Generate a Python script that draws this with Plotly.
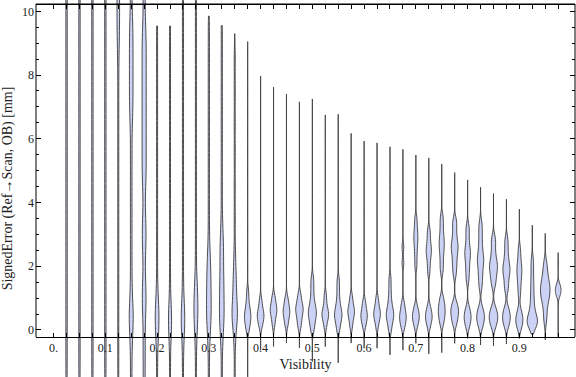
import plotly.graph_objects as go

# ---- data ----
visibility = [0.025, 0.05, 0.075, 0.1, 0.125, 0.15, 0.175, 0.2, 0.225, 0.25,
              0.275, 0.3, 0.325, 0.35, 0.375, 0.4, 0.425, 0.45, 0.475, 0.5,
              0.525, 0.55, 0.575, 0.6, 0.625, 0.65, 0.675, 0.7, 0.725, 0.75,
              0.775, 0.8, 0.825, 0.85, 0.875, 0.9, 0.925, 0.95, 0.975]

# lowest / highest signed error per bin [mm] (extent of each violin)
err_min = [-2, -2, -2, -2, -2, -2, -2, -2, -2, -2,
           -2, -2, -2, -2, -2, -0.63, -0.52, -0.40, -0.56, -0.99,
           -0.52, -1.03, -0.41, -0.57, -0.57, -0.78, -0.63, -0.42, -0.75, -0.71,
           -0.42, -0.26, -0.47, -0.50, -0.44, -0.26, -0.13, -0.31, -0.21]
err_max = [12, 12, 12, 12, 12, 12, 12, 9.54, 9.54, 12,
           12, 9.85, 9.55, 9.3, 9.05, 7.97, 7.62, 7.40, 7.16, 7.25,
           6.75, 6.77, 6.17, 5.93, 5.87, 5.75, 5.67, 5.49, 5.40, 5.21,
           4.94, 4.71, 4.48, 4.28, 4.10, 3.79, 3.29, 3.03, 2.43]

# relative peak density of each violin (widest = 1)
peak_rel = [0.13, 0.13, 0.13, 0.13, 0.25, 0.38, 0.4, 0.36, 0.3, 0.34,
            0.38, 0.45, 0.45, 0.52, 0.62, 0.64, 0.64, 0.64, 0.72, 0.78,
            0.64, 0.72, 0.64, 0.62, 0.64, 0.72, 0.64, 0.66, 0.64, 0.66,
            0.74, 0.66, 0.74, 0.82, 0.74, 0.68, 1.0, 0.92, 0.55]

kde_bw = [0.6, 0.6, 0.6, 0.6, 0.6, 0.5, 0.5, 0.5, 0.5, 0.5,
          0.5, 0.5, 0.45, 0.4, 0.18, 0.15, 0.15, 0.15, 0.15, 0.17,
          0.15, 0.17, 0.15, 0.14, 0.15, 0.17, 0.15, 0.15, 0.15, 0.16,
          0.16, 0.16, 0.17, 0.16, 0.16, 0.16, 0.18, 0.2, 0.1]

err_samples = [
    [-1.5, -0.5, 0.5, 1.5, 2.5, 3.5, 4.5, 5.5, 6.5, 7.5, 8.5, 9.5, 10.5, 11.5],
    [-1.5, -0.5, 0.5, 1.5, 2.5, 3.5, 4.5, 5.5, 6.5, 7.5, 8.5, 9.5, 10.5, 11.5],
    [-1.5, -0.5, 0.5, 1.5, 2.5, 3.5, 4.5, 5.5, 6.5, 7.5, 8.5, 9.5, 10.5, 11.5],
    [-1.5, -0.5, 0.5, 1.5, 2.5, 3.5, 4.5, 5.5, 6.5, 7.5, 8.5, 9.5, 10.5, 11.5],
    [-1.5, -0.5, 0.5, 1.5, 2.5, 3.5, 4.5, 5.5, 6.5, 7.5, 8.5, 9.5, 10.5, 11.5,
     9.2, 9.8, 10.4, 11.0],
    [-1.5, -0.5, 0.5, 1.5, 2.5, 3.5, 4.5, 5.5, 6.5, 7.5, 8.5, 9.5, 10.5, 11.5,
     7.0, 7.8, 8.6, 9.4, 0.2, 0.6],
    [-1.5, -0.5, 0.5, 1.5, 2.5, 3.5, 4.5, 5.5, 6.5, 7.5, 8.5, 9.5, 10.5, 11.5,
     1.0, 3.0, 5.0, 6.0, 7.0, 8.0, 9.0],
    [-1.5, -0.5, 0.5, 1.5, 2.5, 3.5, 4.5, 5.5, 6.5, 7.5, 8.5, 9.5, 0.0, 0.25, 0.5, 0.75],
    [-1.5, -0.5, 0.5, 1.5, 2.5, 3.5, 4.5, 5.5, 6.5, 7.5, 8.5, 9.5, 0.1, 0.3, 0.5],
    [-1.5, -0.5, 0.5, 1.5, 2.5, 3.5, 4.5, 5.5, 6.5, 7.5, 8.5, 9.5, 10.5, 11.5,
     0.1, 0.35, 0.6],
    [-1.5, -0.5, 0.5, 1.5, 2.5, 3.5, 4.5, 5.5, 6.5, 7.5, 8.5, 9.5, 10.5, 11.5,
     0.1, 0.4, 0.7, 1.0, 1.3],
    [-1.5, -0.5, 0.5, 1.5, 2.5, 3.5, 4.5, 5.5, 6.5, 7.5, 8.5, 9.5,
     0.1, 0.4, 0.7, 1.0, 1.4, 1.8, 2.2],
    [-1.5, -0.5, 0.5, 1.5, 2.5, 3.5, 4.5, 5.5, 6.5, 7.5, 8.5, 9.5,
     0.0, 0.3, 0.6, 0.9, 1.2, 1.6, 2.0, 2.5, 2.9],
    [-1.5, -0.5, 0.5, 1.5, 2.5, 3.5, 4.5, 5.5, 6.5, 7.5, 8.5,
     0.1, 0.3, 0.45, 0.6, 0.8, 1.1, 1.5, 2.0],
    [0.0, 0.15, 0.3, 0.4, 0.45, 0.55, 0.7, 0.9, 1.2],
    [0.1, 0.25, 0.35, 0.45, 0.5, 0.6, 0.75, 0.95],
    [0.15, 0.35, 0.5, 0.6, 0.65, 0.75, 0.9, 1.05],
    [0.15, 0.3, 0.45, 0.55, 0.6, 0.7, 0.85, 1.0],
    [0.1, 0.3, 0.45, 0.6, 0.65, 0.75, 0.9, 1.1],
    [0.0, 0.2, 0.35, 0.5, 0.55, 0.65, 0.8, 1.0, 1.3, 1.6],
    [0.1, 0.3, 0.4, 0.5, 0.55, 0.65, 0.85, 1.1],
    [0.0, 0.2, 0.35, 0.45, 0.5, 0.6, 0.75, 0.95, 1.25, 1.55],
    [0.1, 0.3, 0.45, 0.55, 0.6, 0.7, 0.85, 1.05],
    [0.1, 0.25, 0.35, 0.45, 0.5, 0.6, 0.75, 0.9],
    [0.1, 0.3, 0.4, 0.5, 0.55, 0.65, 0.8, 1.0],
    [0.0, 0.2, 0.35, 0.45, 0.5, 0.6, 0.75, 0.95, 1.25, 1.6],
    [0.05, 0.2, 0.3, 0.4, 0.45, 0.55, 0.7, 0.85, 2.1, 2.6],
    [0.1, 0.25, 0.35, 0.42, 0.5, 0.6, 0.75, 2.0, 2.3, 2.55, 2.75, 2.9, 3.05, 3.25, 3.5],
    [0.1, 0.25, 0.35, 0.42, 0.5, 0.6, 0.75, 1.8, 2.05, 2.25, 2.4, 2.5, 2.6, 2.75, 2.95, 3.15],
    [0.2, 0.35, 0.5, 0.6, 0.7, 0.85, 1.0, 1.85, 2.1, 2.35, 2.55, 2.7, 2.85, 3.05, 3.3, 3.55],
    [0.2, 0.35, 0.5, 0.6, 0.7, 0.85, 1.75, 2.0, 2.2, 2.4, 2.55, 2.65, 2.8, 3.0, 3.25, 3.45],
    [0.1, 0.25, 0.35, 0.45, 0.55, 0.7, 1.55, 1.8, 2.0, 2.2, 2.35, 2.45, 2.6, 2.8, 3.05, 3.25],
    [0.1, 0.25, 0.35, 0.45, 0.55, 0.7, 1.35, 1.6, 1.8, 2.0, 2.15, 2.25, 2.4, 2.6, 2.85, 3.1, 3.35],
    [0.1, 0.25, 0.35, 0.45, 0.55, 0.7, 1.4, 1.6, 1.75, 1.9, 2.0, 2.1, 2.25, 2.45, 2.7, 2.9],
    [0.1, 0.25, 0.35, 0.45, 0.55, 0.7, 1.25, 1.45, 1.65, 1.8, 1.9, 2.0, 2.15, 2.35, 2.6, 2.85],
    [0.05, 0.15, 0.25, 0.33, 0.4, 0.5, 0.65, 1.1, 1.35, 1.55, 1.7, 1.85, 1.95, 2.1, 2.3, 2.55],
    [0.05, 0.15, 0.2, 0.25, 0.3, 0.35, 0.45, 0.55, 0.7, 0.9, 1.1, 1.35, 1.6, 1.9, 2.2],
    [0.3, 0.6, 0.85, 1.0, 1.1, 1.2, 1.3, 1.4, 1.5, 1.65, 1.85, 2.1],
    [1.05, 1.15, 1.22, 1.28, 1.35, 1.45],
]

x_tick_vals = [0.0] + visibility
x_tick_text = ["0." if abs(v) < 1e-9 else (f"{v:.1f}" if abs(v * 10 - round(v * 10)) < 1e-9 else "")
               for v in x_tick_vals]
y_major = [0, 2, 4, 6, 8, 10]
y_minor = [0.5, 1, 1.5, 2.5, 3, 3.5, 4.5, 5, 5.5, 6.5, 7, 7.5, 8.5, 9, 9.5]

X_RANGE = [-0.034, 1.0075]
Y_RANGE = [-1.475, 10.355]
FRAME_BOTTOM = 40 / 377.0
FRAME_TOP = 373 / 377.0
MAX_W = 0.020

fig = go.Figure()
for i, pos in enumerate(visibility):
    vals = err_samples[i]
    fig.add_trace(go.Violin(
        x=[pos] * len(vals), y=vals,
        width=MAX_W * peak_rel[i],
        scalegroup=f"g{i}", scalemode="width",
        spanmode="manual", span=[err_min[i], err_max[i]],
        bandwidth=kde_bw[i],
        points=False, box_visible=False, meanline_visible=False,
        fillcolor="rgb(204,210,245)",
        line=dict(color="rgba(60,60,60,0.9)", width=1),
        hoverinfo="skip", showlegend=False,
    ))

# empty trace so that the top frame axis (x2) is rendered
fig.add_trace(go.Scatter(x=[None], y=[None], xaxis="x2", yaxis="y",
                         mode="lines", hoverinfo="skip", showlegend=False))

fig.update_layout(
    width=576, height=377,
    margin=dict(l=36, r=1, t=0, b=0, autoexpand=False),
    paper_bgcolor="white", plot_bgcolor="white",
    violinmode="overlay", violingap=0, violingroupgap=0,
    font=dict(family="Liberation Serif", size=12, color="#222222"),
    showlegend=False,
    xaxis=dict(
        range=X_RANGE, anchor="free", position=FRAME_BOTTOM, automargin=False,
        showline=True, linecolor="black", linewidth=1,
        ticks="inside", ticklen=4, tickcolor="black", tickwidth=1,
        tickmode="array", tickvals=x_tick_vals, ticktext=x_tick_text,
        showgrid=False, zeroline=False,
        title=dict(text="Visibility", standoff=4),
    ),
    xaxis2=dict(
        range=X_RANGE, overlaying="x", side="top", anchor="free",
        position=FRAME_TOP, automargin=False,
        showline=True, linecolor="black", linewidth=1,
        ticks="inside", ticklen=4, tickcolor="black",
        tickmode="array", tickvals=x_tick_vals, showticklabels=False,
        showgrid=False, zeroline=False,
    ),
    yaxis=dict(
        range=Y_RANGE, domain=[0, 1], automargin=False,
        showline=False, mirror="ticks",
        ticks="inside", ticklen=5, tickcolor="black",
        ticklabelstandoff=1,
        tickmode="array", tickvals=y_major, ticktext=[str(v) for v in y_major],
        minor=dict(ticks="inside", ticklen=3, tickcolor="black",
                   tickmode="array", tickvals=y_minor),
        showgrid=False, zeroline=False,
        title=dict(text="SignedError (Ref\u2192Scan, OB) [mm]", standoff=6),
    ),
    shapes=[
        dict(type="line", xref="paper", yref="paper", x0=0, x1=0,
             y0=FRAME_BOTTOM, y1=FRAME_TOP, line=dict(color="black", width=1)),
        dict(type="line", xref="paper", yref="paper", x0=1, x1=1,
             y0=FRAME_BOTTOM, y1=FRAME_TOP, line=dict(color="black", width=1)),
        dict(type="line", xref="paper", yref="paper", x0=0, x1=1,
             y0=FRAME_TOP, y1=FRAME_TOP, line=dict(color="black", width=1)),
    ],
)

fig.write_html(
    "out.html",
    config={"displayModeBar": False},
    post_script="document.body.style.margin='0px';document.body.style.overflow='hidden';",
)
